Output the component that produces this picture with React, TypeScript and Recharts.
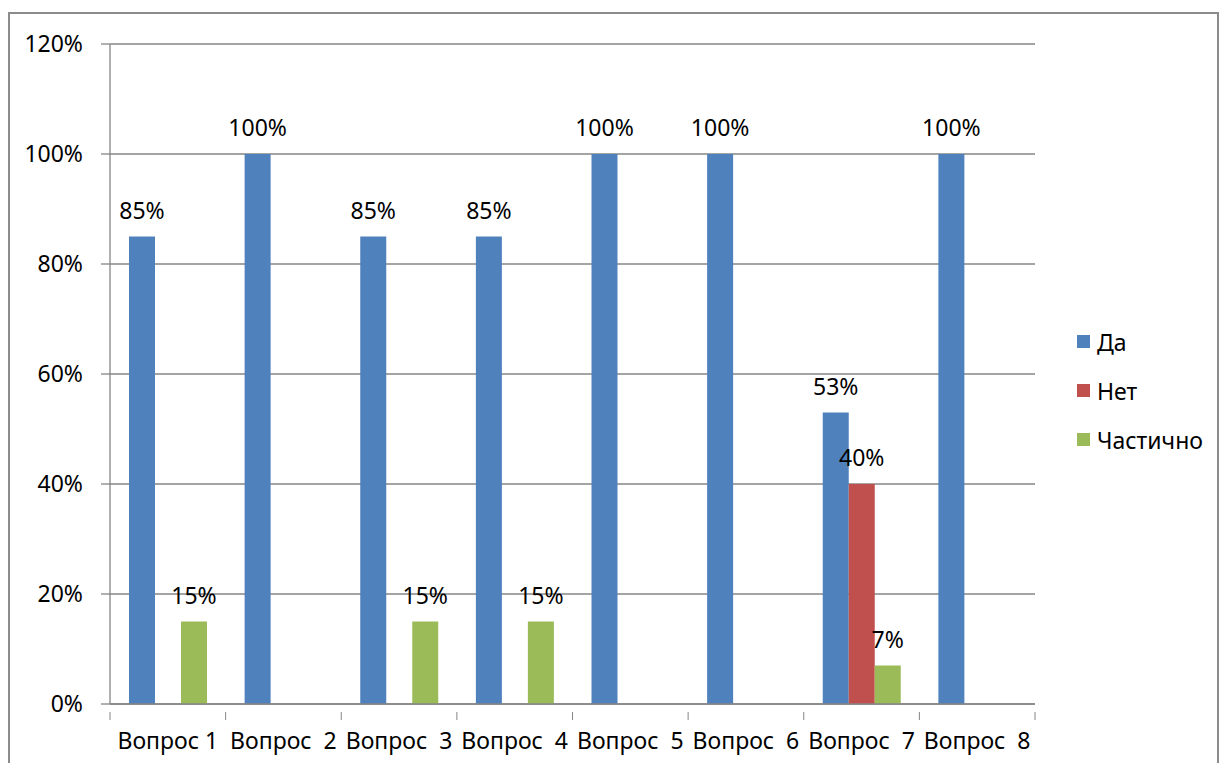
import { BarChart, Bar, XAxis, YAxis, CartesianGrid, Legend, LabelList } from "recharts";

const categories = [
  "Вопрос 1",
  "Вопрос\u00a0 2",
  "Вопрос\u00a0 3",
  "Вопрос\u00a0 4",
  "Вопрос\u00a0 5",
  "Вопрос\u00a0 6",
  "Вопрос\u00a0 7",
  "Вопрос\u00a0 8",
];
const yesValues = [85, 100, 85, 85, 100, 100, 53, 100];
const noValues = [null, null, null, null, null, null, 40, null];
const partialValues = [15, null, 15, 15, null, null, 7, null];
const yTicks = [0, 20, 40, 60, 80, 100, 120];

const series = [
  { key: "yes", name: "Да", color: "#4F81BD" },
  { key: "no", name: "Нет", color: "#C0504D" },
  { key: "partial", name: "Частично", color: "#9BBB59" },
];

const data = categories.map((name, i) => ({
  name,
  yes: yesValues[i],
  no: noValues[i],
  partial: partialValues[i],
}));

const FONT = "'Noto Sans', sans-serif";
const FS = 23;
const AXIS = "#868686";
const PLOT_LEFT = 110;
const PLOT_RIGHT = 1035;
const BAND = (PLOT_RIGHT - PLOT_LEFT) / categories.length;

const pct = (v: any) => (v === null || v === undefined ? "" : `${v}%`);

// category tick: boundary marks like a classic office chart, label centered
const CategoryTick = (props: any) => {
  const { x, y, payload, index } = props;
  const left = x - BAND / 2;
  const right = x + BAND / 2;
  return (
    <g>
      <line x1={left} x2={left} y1={y} y2={y + 8} stroke={AXIS} />
      {index === categories.length - 1 && (
        <line x1={right} x2={right} y1={y} y2={y + 8} stroke={AXIS} />
      )}
      <text
        x={x}
        y={y + 37}
        textAnchor="middle"
        fontSize={FS}
        fontFamily={FONT}
        fill="#000"
      >
        {payload.value}
      </text>
    </g>
  );
};

const LegendBox = () => (
  <div style={{ width: 140, fontFamily: FONT, fontSize: FS, color: "#000" }}>
    {series.map((s) => (
      <div
        key={s.key}
        style={{ display: "flex", alignItems: "center", height: 49 }}
      >
        <span
          style={{
            width: 13,
            height: 13,
            background: s.color,
            marginRight: 7,
            display: "inline-block",
          }}
        />
        <span>{s.name}</span>
      </div>
    ))}
  </div>
);

export default function App() {
  return (
    <div style={{ position: "absolute", left: 0, top: 0, width: 1219, height: 763, background: "#fff" }}>
      <div
        style={{
          position: "absolute",
          left: 8,
          top: 12,
          width: 1207,
          height: 760,
          border: "2px solid #8c8c8c",
          borderBottom: "none",
        }}
      />
      <BarChart
        width={1219}
        height={763}
        data={data}
        margin={{ top: 44, right: 44, bottom: 0, left: 0 }}
        barSize={26}
        barGap={0}
        style={{ position: "absolute", left: 0, top: 0 }}
      >
        <CartesianGrid vertical={false} stroke={AXIS} strokeWidth={1.3} />
        <XAxis
          dataKey="name"
          height={59}
          axisLine={{ stroke: AXIS, strokeWidth: 1.3 }}
          tickLine={false}
          interval={0}
          tick={<CategoryTick />}
        />
        <YAxis
          width={110}
          domain={[0, 120]}
          ticks={yTicks}
          interval={0}
          tickFormatter={pct}
          axisLine={{ stroke: AXIS, strokeWidth: 1.3 }}
          tickLine={{ stroke: AXIS, strokeWidth: 1.3 }}
          tickSize={9}
          tickMargin={18}
          tick={{ fontSize: FS, fontFamily: FONT, fill: "#000" }}
        />
        <Legend
          layout="vertical"
          align="right"
          verticalAlign="middle"
          content={<LegendBox />}
          wrapperStyle={{ left: 1077, right: "auto", top: 317 }}
        />
        {series.map((s) => (
          <Bar key={s.key} dataKey={s.key} name={s.name} fill={s.color} isAnimationActive={false}>
            <LabelList
              dataKey={s.key}
              position="top"
              offset={18}
              formatter={pct}
              style={{ fontSize: FS, fontFamily: FONT, fill: "#000" }}
            />
          </Bar>
        ))}
      </BarChart>
    </div>
  );
}
